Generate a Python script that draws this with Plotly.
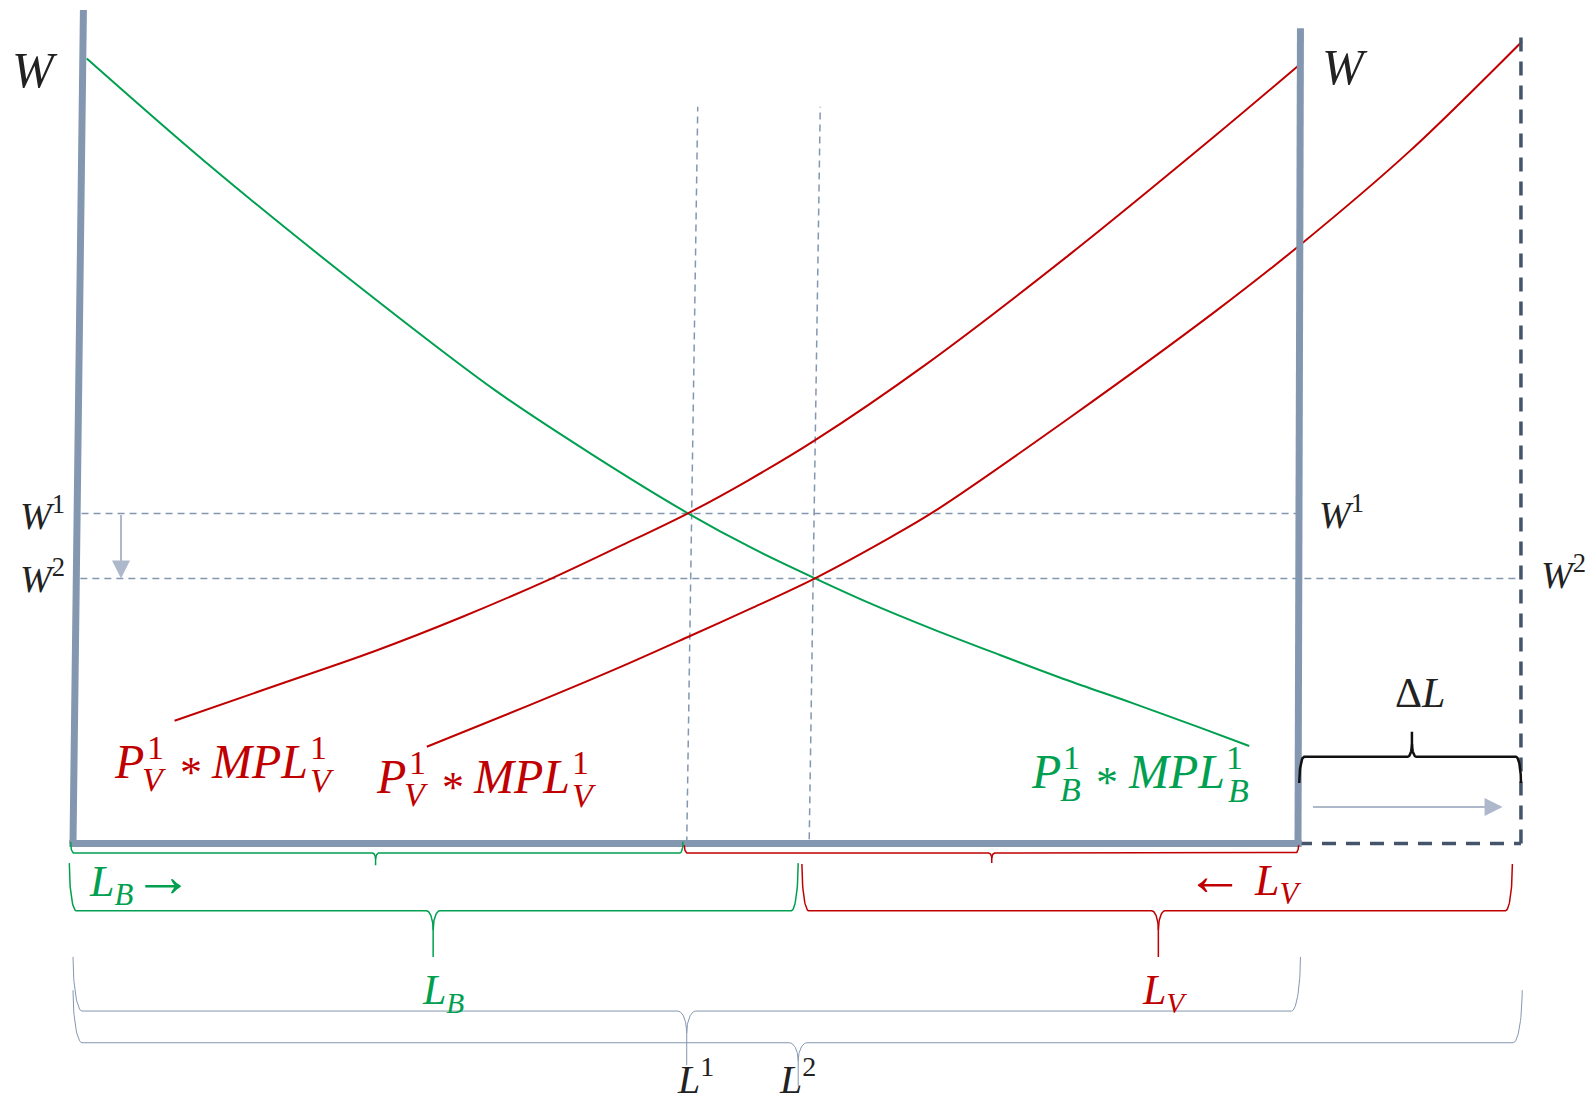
import numpy as np
import plotly.graph_objects as go

# ---------------- data (L = labour on x, W = wage on y) ----------------
green_L = [1.12, 10.81, 22.68, 34.53, 42.45, 50.20, 55.49, 60.57, 64.79, 70.23, 75.67, 81.12, 86.55, 92.0, 96.02]
green_W = [94.17, 81.76, 67.61, 54.3, 46.6, 39.62, 35.4, 31.82, 29.0, 25.7, 22.62, 19.62, 16.82, 13.9, 11.7]

red1_L = [8.29, 17.22, 24.49, 31.80, 39.09, 44.56, 50.20, 55.10, 60.49, 69.55, 81.47, 93.31, 100.0]
red1_W = [14.73, 19.29, 23.01, 27.21, 31.82, 35.61, 39.62, 43.55, 48.3, 57.4, 70.8, 85.0, 93.28]

red2_L = [28.88, 37.27, 44.56, 50.37, 55.49, 60.57, 66.69, 70.37, 81.47, 93.31, 100.24, 109.14, 118.29]
red2_W = [11.61, 16.6, 21.1, 24.9, 28.3, 31.82, 36.7, 39.9, 51.2, 63.9, 71.9, 83.1, 96.23]

L_END1 = 100.0      # original labour endowment (right wall)
L_END2 = 118.2      # after the increase ΔL
W_TOP = 100.0
W_TOP_R = 97.8
W1, W2 = 39.6, 31.8
L1, L2 = 50.2, 60.6

RED = "#C00000"
GREEN = "#00A050"
WALL = "#8497B0"
DARK = "#44546A"
GUIDE = "#8497B0"
ARROW = "#ADB9CA"
INK = "#222222"
FONT = "Liberation Serif"

fig = go.Figure()


def line(xs, ys, color, width, dash=None, shape="linear"):
    fig.add_trace(go.Scatter(x=xs, y=ys, mode="lines",
                             line=dict(color=color, width=width, dash=dash, shape=shape,
                                       smoothing=0.9 if shape == "spline" else None),
                             hoverinfo="skip", connectgaps=False))


def brace(x0, x1, xt, y_end, y_line, y_tip, rx, rxt, stem, color, width):
    t = np.linspace(0, np.pi / 2, 24)
    ytc = y_line + (y_tip - y_line) * (1 - stem)
    xs = list(x0 + rx * (1 - np.cos(t)))
    ys = list(y_end + (y_line - y_end) * np.sin(t))
    xs += list(xt - rxt + rxt * np.sin(t))
    ys += list(y_line + (ytc - y_line) * (1 - np.cos(t)))
    xs += [xt, None]
    ys += [y_tip, None]
    xs += list(xt + rxt * (1 - np.cos(t)))
    ys += list(ytc + (y_line - ytc) * np.sin(t))
    xs += list(x1 - rx + rx * np.sin(t))
    ys += list(y_line + (y_end - y_line) * (1 - np.cos(t)))
    line(xs, ys, color, width)


def txt(L, W, s, color, size, dx=0, dy=0, yanchor="middle"):
    fig.add_annotation(x=L, y=W, text=s, showarrow=False, xshift=dx, yshift=dy,
                       xanchor="center", yanchor=yanchor,
                       font=dict(family=FONT, size=size, color=color))


# guide lines
line([0.7, L_END1], [W1, W1], GUIDE, 1.5, dash="7px,5px")
line([0.6, L_END2], [W2, W2], GUIDE, 1.5, dash="7px,5px")
line([L1 - 0.1, L1 + 0.8], [0, 88.4], GUIDE, 1.5, dash="7px,5px")
line([L2 - 0.5, L2 + 0.4], [0.5, 88.4], GUIDE, 1.5, dash="7px,5px")

# curves
line(green_L, green_W, GREEN, 2, shape="spline")
line(red1_L, red1_W, RED, 2, shape="spline")
line(red2_L, red2_W, RED, 2, shape="spline")

# walls
line([L_END1, L_END2], [0, 0], DARK, 3.5, dash="14px,10px")
line([L_END2, L_END2], [0, W_TOP_R], DARK, 3.5, dash="14px,10px")
line([-0.3, L_END1 + 0.3], [0, 0], WALL, 7)
line([0.0, 0.85], [0, W_TOP], WALL, 7)
line([L_END1, L_END1 + 0.2], [0, W_TOP_R], WALL, 7)

# braces
brace(-0.2, 49.8, 24.7, 0.2, -1.14, -2.6, 0.25, 0.25, 0.5, GREEN, 1.5)
brace(49.9, 100.05, 75.0, -0.2, -1.14, -2.35, 0.25, 0.25, 0.5, RED, 1.5)
brace(-0.3, 59.2, 29.4, -2.35, -8.06, -13.6, 0.55, 0.55, 0.58, GREEN, 1.5)
brace(59.5, 117.5, 88.6, -2.45, -8.06, -13.6, 0.55, 0.55, 0.58, RED, 1.5)
brace(0.0, 100.2, 50.1, -13.6, -20.1, -26.6, 0.73, 0.73, 0.59, GUIDE, 1)
brace(0.0, 118.3, 59.2, -17.6, -23.9, -29.2, 0.73, 0.73, 0.59, GUIDE, 1)
brace(100.1, 118.2, 109.3, 7.26, 10.41, 13.41, 0.4, 0.35, 0.5, "#111111", 2.5)

# arrows
fig.add_annotation(x=3.92, y=W2, ax=3.92, ay=W1, xref="x", yref="y", axref="x", ayref="y",
                   text="", showarrow=True, arrowhead=2, arrowsize=1.8, arrowwidth=2,
                   arrowcolor=ARROW)
fig.add_annotation(x=116.7, y=4.38, ax=101.1, ay=4.38, xref="x", yref="y", axref="x", ayref="y",
                   text="", showarrow=True, arrowhead=2, arrowsize=1.8, arrowwidth=2,
                   arrowcolor=ARROW)

# axis letters
txt(-3.14, 92.8, "<i>W</i>", INK, 50)
txt(103.84, 93.16, "<i>W</i>", INK, 50)
txt(-2.45, 39.7, "<i>W</i><sup>1</sup>", INK, 38)
txt(-2.49, 32.1, "<i>W</i><sup>2</sup>", INK, 38)
txt(103.51, 39.77, "<i>W</i><sup>1</sup>", INK, 38)
txt(121.71, 32.57, "<i>W</i><sup>2</sup>", INK, 38)
txt(109.96, 18.06, "Δ<i>L</i>", INK, 42)

txt(5.59, -4.1, "<i>L</i><sub><i>B</i></sub><span style='font-size:60px'>→</span>", GREEN, 44)
txt(95.59, -4.0, "<span style='font-size:58px'>←</span> <i>L</i><sub><i>V</i></sub>", RED, 44)
txt(30.2, -17.94, "<i>L</i><sub><i>B</i></sub>", GREEN, 42)
txt(89.14, -17.94, "<i>L</i><sub><i>V</i></sub>", RED, 42)
txt(50.78, -31.25, "<i>L</i><sup>1</sup>", INK, 40, yanchor="bottom")
txt(59.14, -31.25, "<i>L</i><sup>2</sup>", INK, 40, yanchor="bottom")


def pmpl(L, W, sub, color):
    parts = [("<i>P</i>", 0, 0, 48),
             ("1", 26, 14, 34),
             ("<i>%s</i>" % sub, 25, -17.5, 34),
             ("*", 61.5, -11, 44),
             ("<i>MPL</i>", 130.5, 0, 48),
             ("1", 189, 14.5, 34),
             ("<i>%s</i>" % sub, 193, -18.5, 34)]
    for s, dx, dy, size in parts:
        txt(L, W, s, color, size, dx, dy)


pmpl(4.61, 9.84, "V", RED)
pmpl(25.98, 8.04, "V", RED)
pmpl(79.39, 8.64, "B", GREEN)

fig.update_layout(width=1578, height=1096, margin=dict(l=0, r=0, t=0, b=0),
                  paper_bgcolor="white", plot_bgcolor="white", showlegend=False,
                  xaxis=dict(range=[-5.306, 123.51], visible=False, fixedrange=True),
                  yaxis=dict(range=[-31.25, 100.24], visible=False, fixedrange=True))

fig.write_html("out.html")
